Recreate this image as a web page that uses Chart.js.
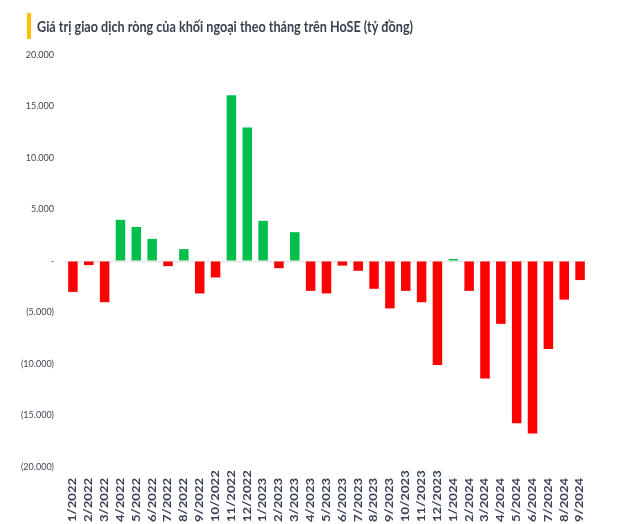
<!DOCTYPE html>
<html>
<head>
<meta charset="utf-8">
<script src="https://cdn.jsdelivr.net/npm/chart.js@4"></script>
<style>
  html,body{margin:0;padding:0;background:#fff;}
  #wrap{width:626px;height:524px;position:relative;}
</style>
</head>
<body>
<div id="wrap"><canvas id="c" width="626" height="524"></canvas></div>
<script>
const titleText = 'Giá trị giao dịch ròng của khối ngoại theo tháng trên HoSE (tỷ đồng)';
const months = ['1/2022','2/2022','3/2022','4/2022','5/2022','6/2022','7/2022','8/2022','9/2022','10/2022','11/2022','12/2022',
  '1/2023','2/2023','3/2023','4/2023','5/2023','6/2023','7/2023','8/2023','9/2023','10/2023','11/2023','12/2023',
  '1/2024','2/2024','3/2024','4/2024','5/2024','6/2024','7/2024','8/2024','9/2024'];
const netValues = [-3000,-400,-4000,4000,3300,2150,-500,1150,-3150,-1600,16100,12950,
  3900,-700,2800,-2900,-3150,-450,-950,-2700,-4600,-2900,-4000,-10100,
  200,-2900,-11400,-6100,-15750,-16750,-8550,-3750,-1850];
const yTickValues = [-20000,-15000,-10000,-5000,0,5000,10000,15000,20000];
const yTickLabels = ['(20.000)','(15.000)','(10.000)','(5.000)','-','5.000','10.000','15.000','20.000'];

const GREEN = '#00C04B', RED = '#FF0000';

const titlePlugin = {
  id: 'titlePlugin',
  beforeDraw(chart) {
    const ctx = chart.ctx;
    ctx.save();
    ctx.fillStyle = '#FFC000';
    ctx.fillRect(27, 13, 4, 26);
    ctx.fillStyle = '#3A3F4E';
    ctx.font = 'bold 15.5px Lato';
    ctx.textBaseline = 'middle';
    ctx.textAlign = 'left';
    ctx.fillText(titleText, 37, 27, 376);
    ctx.restore();
  }
};

const xLabelPlugin = {
  id: 'xLabelPlugin',
  afterDraw(chart) {
    const ctx = chart.ctx;
    const xs = chart.scales.x;
    ctx.save();
    ctx.fillStyle = '#3A4356';
    ctx.font = 'bold 10.5px Lato';
    ctx.textBaseline = 'middle';
    ctx.textAlign = 'left';
    months.forEach((m, i) => {
      const x = xs.getPixelForTick(i);
      ctx.save();
      ctx.translate(x, 522);
      ctx.rotate(-Math.PI / 2);
      ctx.scale(1.25, 1);
      ctx.fillText(m, 0, 0);
      ctx.restore();
    });
    ctx.restore();
  }
};

new Chart(document.getElementById('c'), {
  type: 'bar',
  data: {
    labels: months,
    datasets: [{
      data: netValues,
      backgroundColor: netValues.map(v => v >= 0 ? GREEN : RED),
      borderWidth: 0,
      barPercentage: 0.6,
      categoryPercentage: 1.0
    }]
  },
  options: {
    responsive: false,
    animation: false,
    devicePixelRatio: 1,
    layout: { padding: { left: 0, right: 38, top: 55, bottom: 0 } },
    plugins: { legend: { display: false }, tooltip: { enabled: false }, title: { display: false } },
    scales: {
      x: {
        grid: { display: false },
        border: { display: false },
        ticks: { display: false },
        afterFit(s) { s.height = 57; }
      },
      y: {
        min: -20000, max: 20000,
        afterBuildTicks(s) { s.ticks = yTickValues.map(v => ({ value: v })); },
        afterFit(s) { s.width = 65; },
        grid: {
          drawTicks: false,
          color: ctx => ctx.tick && ctx.tick.value === 0 ? '#E3E3E3' : 'rgba(0,0,0,0)',
          lineWidth: 1
        },
        border: { display: false },
        ticks: {
          padding: 11,
          color: '#3F4553',
          font: { family: 'Lato', size: 9 },
          callback: (v) => { const i = yTickValues.indexOf(v); return i >= 0 ? yTickLabels[i] : ''; }
        }
      }
    }
  },
  plugins: [titlePlugin, xLabelPlugin]
});
</script>
</body>
</html>
